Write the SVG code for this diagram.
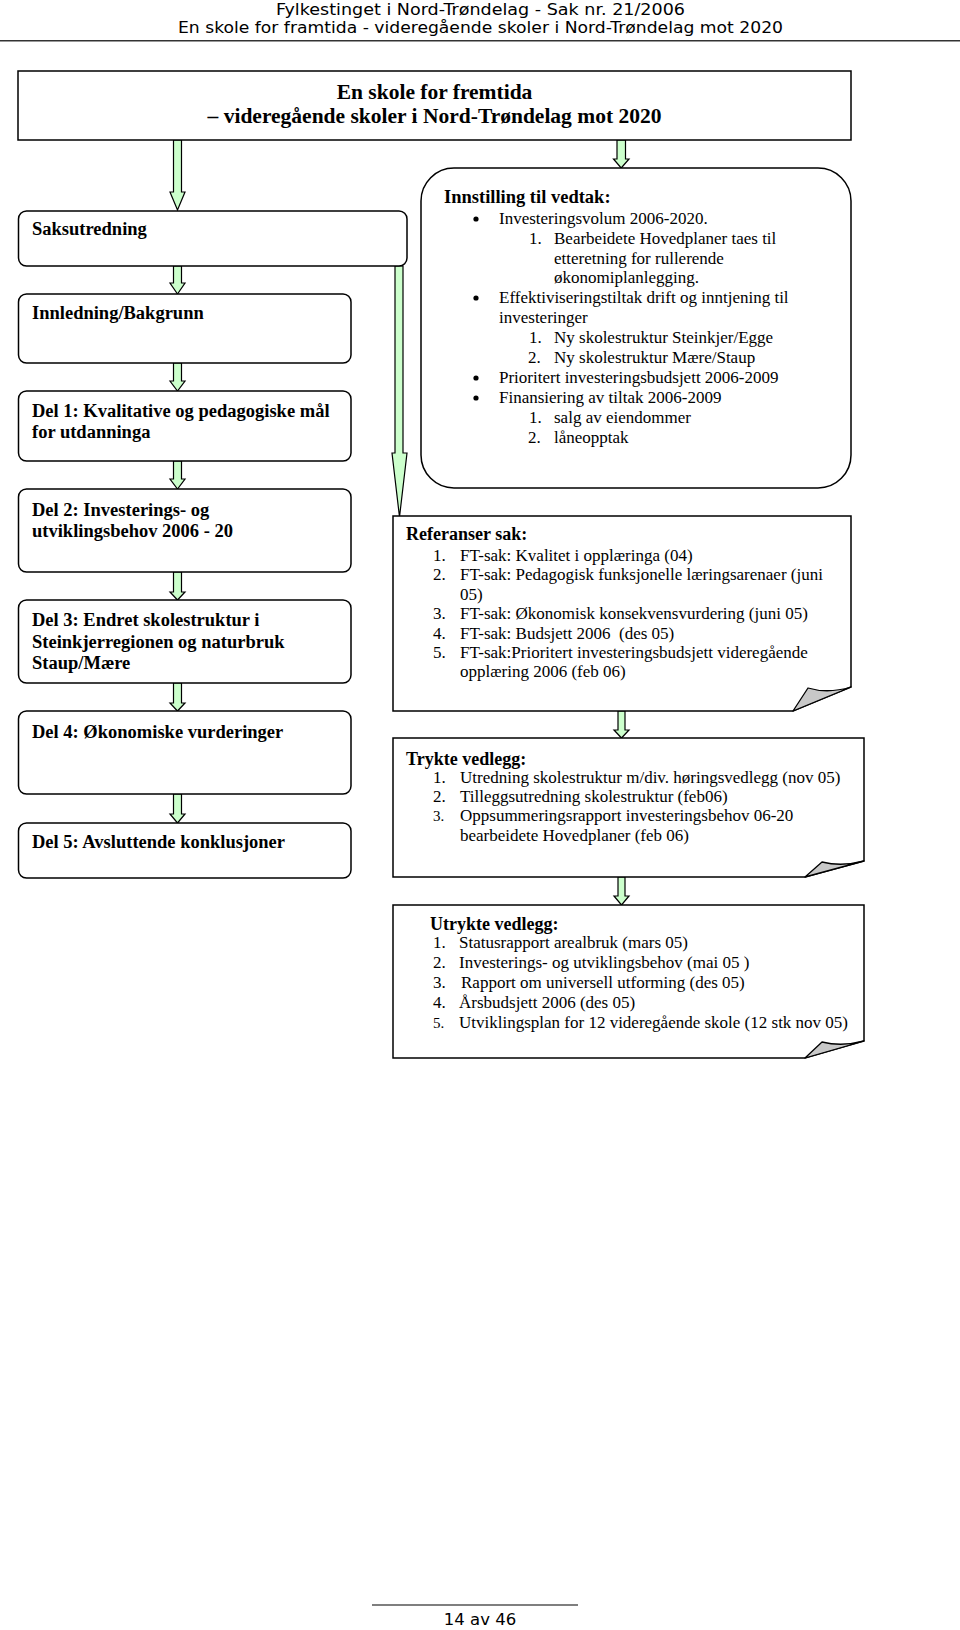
<svg xmlns="http://www.w3.org/2000/svg" width="960" height="1630" viewBox="0 0 960 1630">
<style>
.hdr{font-family:"DejaVu Sans",Verdana,sans-serif;font-size:15px;fill:#000}
.ttl{font-family:"Liberation Serif","Times New Roman",serif;font-size:21.5px;font-weight:bold;fill:#000}
.bx{fill:#fff;stroke:#000;stroke-width:1.5}
.lb{font-family:"Liberation Serif","Times New Roman",serif;font-size:18.5px;font-weight:bold;fill:#000}
.hd{font-family:"Liberation Serif","Times New Roman",serif;font-size:18px;font-weight:bold;fill:#000}
.it{font-family:"Liberation Serif","Times New Roman",serif;font-size:17px;fill:#000}
.nt{font-family:"Liberation Serif","Times New Roman",serif;font-size:17px;fill:#000}
.sm{font-size:15px}
.arr{fill:#ccffcc;stroke:#000;stroke-width:1.2;stroke-linejoin:miter}
.fold{fill:#c8c8c8;stroke:#000;stroke-width:1.3;stroke-linejoin:round}
</style>
<rect width="960" height="1630" fill="#fff"/>
<g id="header">
<text class="hdr" x="480.5" y="15" text-anchor="middle" textLength="409" lengthAdjust="spacingAndGlyphs">Fylkestinget i Nord-Trøndelag - Sak nr. 21/2006</text>
<text class="hdr" x="480.5" y="33" text-anchor="middle" textLength="605" lengthAdjust="spacingAndGlyphs">En skole for framtida - videregående skoler i Nord-Trøndelag mot 2020</text>
<line x1="0" y1="40.7" x2="960" y2="40.7" stroke="#333" stroke-width="1.5"/>
</g>
<g id="connectors">
<polygon class="arr" points="173.5,140 181.5,140 181.5,192 185,192 177.5,210 170,192 173.5,192"/>
<polygon class="arr" points="173.5,266 181.5,266 181.5,283 185,283 177.5,294 170,283 173.5,283"/>
<polygon class="arr" points="173.5,363 181.5,363 181.5,381 185,381 177.5,391 170,381 173.5,381"/>
<polygon class="arr" points="173.5,461 181.5,461 181.5,479 185,479 177.5,489 170,479 173.5,479"/>
<polygon class="arr" points="173.5,572 181.5,572 181.5,592 185,592 177.5,600 170,592 173.5,592"/>
<polygon class="arr" points="173.5,683 181.5,683 181.5,703 185,703 177.5,711 170,703 173.5,703"/>
<polygon class="arr" points="173.5,794 181.5,794 181.5,814 185,814 177.5,823 170,814 173.5,814"/>
<polygon class="arr" points="617,140 625.5,140 625.5,159 629,159 621.2,168 613.5,159 617,159"/>
<polygon class="arr" points="395,266 403,266 403,453 407,453 399.5,517 392,453 395,453"/>
<polygon class="arr" points="618,711 625,711 625,730 629,730 621.5,738 614,730 618,730"/>
<polygon class="arr" points="618,877 625,877 625,896 629,896 621.5,905 614,896 618,896"/>
</g>
<g id="title">
<rect class="bx" x="18" y="71" width="833" height="69" stroke-width="1.8"/>
<text class="ttl" x="434.5" y="99" text-anchor="middle">En skole for fremtida</text>
<text class="ttl" x="434.5" y="122.5" text-anchor="middle">– videregående skoler i Nord-Trøndelag mot 2020</text>
</g>
<g id="saksutredning">
<rect class="bx" x="18.5" y="211" width="388.5" height="55" rx="8"/>
<text class="lb" x="32" y="235">Saksutredning</text>
</g>
<g id="innledning">
<rect class="bx" x="18.5" y="294" width="332.5" height="69" rx="8"/>
<text class="lb" x="32" y="319">Innledning/Bakgrunn</text>
</g>
<g id="del1">
<rect class="bx" x="18.5" y="391" width="332.5" height="70" rx="8"/>
<text class="lb" x="32" y="416.5">Del 1: Kvalitative og pedagogiske mål</text>
<text class="lb" x="32" y="438">for utdanninga</text>
</g>
<g id="del2">
<rect class="bx" x="18.5" y="489" width="332.5" height="83" rx="8"/>
<text class="lb" x="32" y="515.5">Del 2: Investerings- og</text>
<text class="lb" x="32" y="537">utviklingsbehov 2006 - 20</text>
</g>
<g id="del3">
<rect class="bx" x="18.5" y="600" width="332.5" height="83" rx="8"/>
<text class="lb" x="32" y="626">Del 3: Endret skolestruktur i</text>
<text class="lb" x="32" y="647.5">Steinkjerregionen og naturbruk</text>
<text class="lb" x="32" y="669">Staup/Mære</text>
</g>
<g id="del4">
<rect class="bx" x="18.5" y="711" width="332.5" height="83" rx="8"/>
<text class="lb" x="32" y="738">Del 4: Økonomiske vurderinger</text>
</g>
<g id="del5">
<rect class="bx" x="18.5" y="823" width="332.5" height="55" rx="8"/>
<text class="lb" x="32" y="848">Del 5: Avsluttende konklusjoner</text>
</g>
<g id="innstilling">
<rect class="bx" x="421" y="168" width="430" height="320" rx="33"/>
<text class="hd" x="444" y="203" style="font-size:18.5px">Innstilling til vedtak:</text>
<g fill="#000">
<circle cx="476" cy="219" r="2.6"/>
<circle cx="476" cy="298" r="2.6"/>
<circle cx="476" cy="378" r="2.6"/>
<circle cx="476" cy="398" r="2.6"/>
</g>
<text class="it" x="499" y="224">Investeringsvolum 2006-2020.</text>
<text class="it" x="529" y="244">1.</text>
<text class="it" x="554" y="244">Bearbeidete Hovedplaner taes til</text>
<text class="it" x="554" y="263.5">etteretning for rullerende</text>
<text class="it" x="554" y="283">økonomiplanlegging.</text>
<text class="it" x="499" y="303">Effektiviseringstiltak drift og inntjening til</text>
<text class="it" x="499" y="323">investeringer</text>
<text class="it" x="529" y="343">1.</text>
<text class="it" x="554" y="343">Ny skolestruktur Steinkjer/Egge</text>
<text class="it" x="528" y="363">2.</text>
<text class="it" x="554" y="363">Ny skolestruktur Mære/Staup</text>
<text class="it" x="499" y="383">Prioritert investeringsbudsjett 2006-2009</text>
<text class="it" x="499" y="403">Finansiering av tiltak 2006-2009</text>
<text class="it" x="529" y="423">1.</text>
<text class="it" x="554" y="423">salg av eiendommer</text>
<text class="it" x="528" y="443">2.</text>
<text class="it" x="554" y="443">låneopptak</text>
</g>
<g id="referanser">
<path class="bx" d="M393,516 H851 V687 L793,711 H393 Z"/>
<path class="fold" d="M793,711 L808,688 Q828,694 851,687 Z"/>
<text class="hd" x="406" y="540">Referanser sak:</text>
<text class="nt" x="433" y="561">1.</text>
<text class="nt" x="460" y="561">FT-sak: Kvalitet i opplæringa (04)</text>
<text class="nt" x="433" y="580">2.</text>
<text class="nt" x="460" y="580">FT-sak: Pedagogisk funksjonelle læringsarenaer (juni</text>
<text class="nt" x="460" y="600">05)</text>
<text class="nt" x="433" y="619">3.</text>
<text class="nt" x="460" y="619">FT-sak: Økonomisk konsekvensvurdering (juni 05)</text>
<text class="nt" x="433" y="639">4.</text>
<text class="nt" x="460" y="639" xml:space="preserve">FT-sak: Budsjett 2006  (des 05)</text>
<text class="nt" x="433" y="658">5.</text>
<text class="nt" x="460" y="658">FT-sak:Prioritert investeringsbudsjett videregående</text>
<text class="nt" x="460" y="677">opplæring 2006 (feb 06)</text>
</g>
<g id="trykte">
<path class="bx" d="M393,738 H864 V861 L805,877 H393 Z"/>
<path class="fold" d="M805,877 L822,862 Q842,867 864,861 Z"/>
<text class="hd" x="406" y="765">Trykte vedlegg:</text>
<text class="nt" x="433" y="783">1.</text>
<text class="nt" x="460" y="783">Utredning skolestruktur m/div. høringsvedlegg (nov 05)</text>
<text class="nt" x="433" y="802">2.</text>
<text class="nt" x="460" y="802">Tilleggsutredning skolestruktur (feb06)</text>
<text class="nt sm" x="433" y="821">3.</text>
<text class="nt" x="460" y="821">Oppsummeringsrapport investeringsbehov 06-20</text>
<text class="nt" x="460" y="841">bearbeidete Hovedplaner (feb 06)</text>
</g>
<g id="utrykte">
<path class="bx" d="M393,905 H864 V1041 L805,1058 H393 Z"/>
<path class="fold" d="M805,1058 L822,1042 Q842,1047 864,1041 Z"/>
<text class="hd" x="430" y="930">Utrykte vedlegg:</text>
<text class="nt" x="433" y="948">1.</text>
<text class="nt" x="459" y="948">Statusrapport arealbruk (mars 05)</text>
<text class="nt" x="433" y="968">2.</text>
<text class="nt" x="459" y="968">Investerings- og utviklingsbehov (mai 05 )</text>
<text class="nt" x="433" y="988">3.</text>
<text class="nt" x="461" y="988">Rapport om universell utforming (des 05)</text>
<text class="nt" x="433" y="1008">4.</text>
<text class="nt" x="459" y="1008">Årsbudsjett 2006 (des 05)</text>
<text class="nt sm" x="433" y="1028">5.</text>
<text class="nt" x="459" y="1028">Utviklingsplan for 12 videregående skole (12 stk nov 05)</text>
</g>
<g id="footer">
<line x1="372" y1="1605" x2="578" y2="1605" stroke="#000" stroke-width="1.2"/>
<text class="hdr" x="480" y="1625" text-anchor="middle" style="font-size:16.5px">14 av 46</text>
</g>
</svg>
